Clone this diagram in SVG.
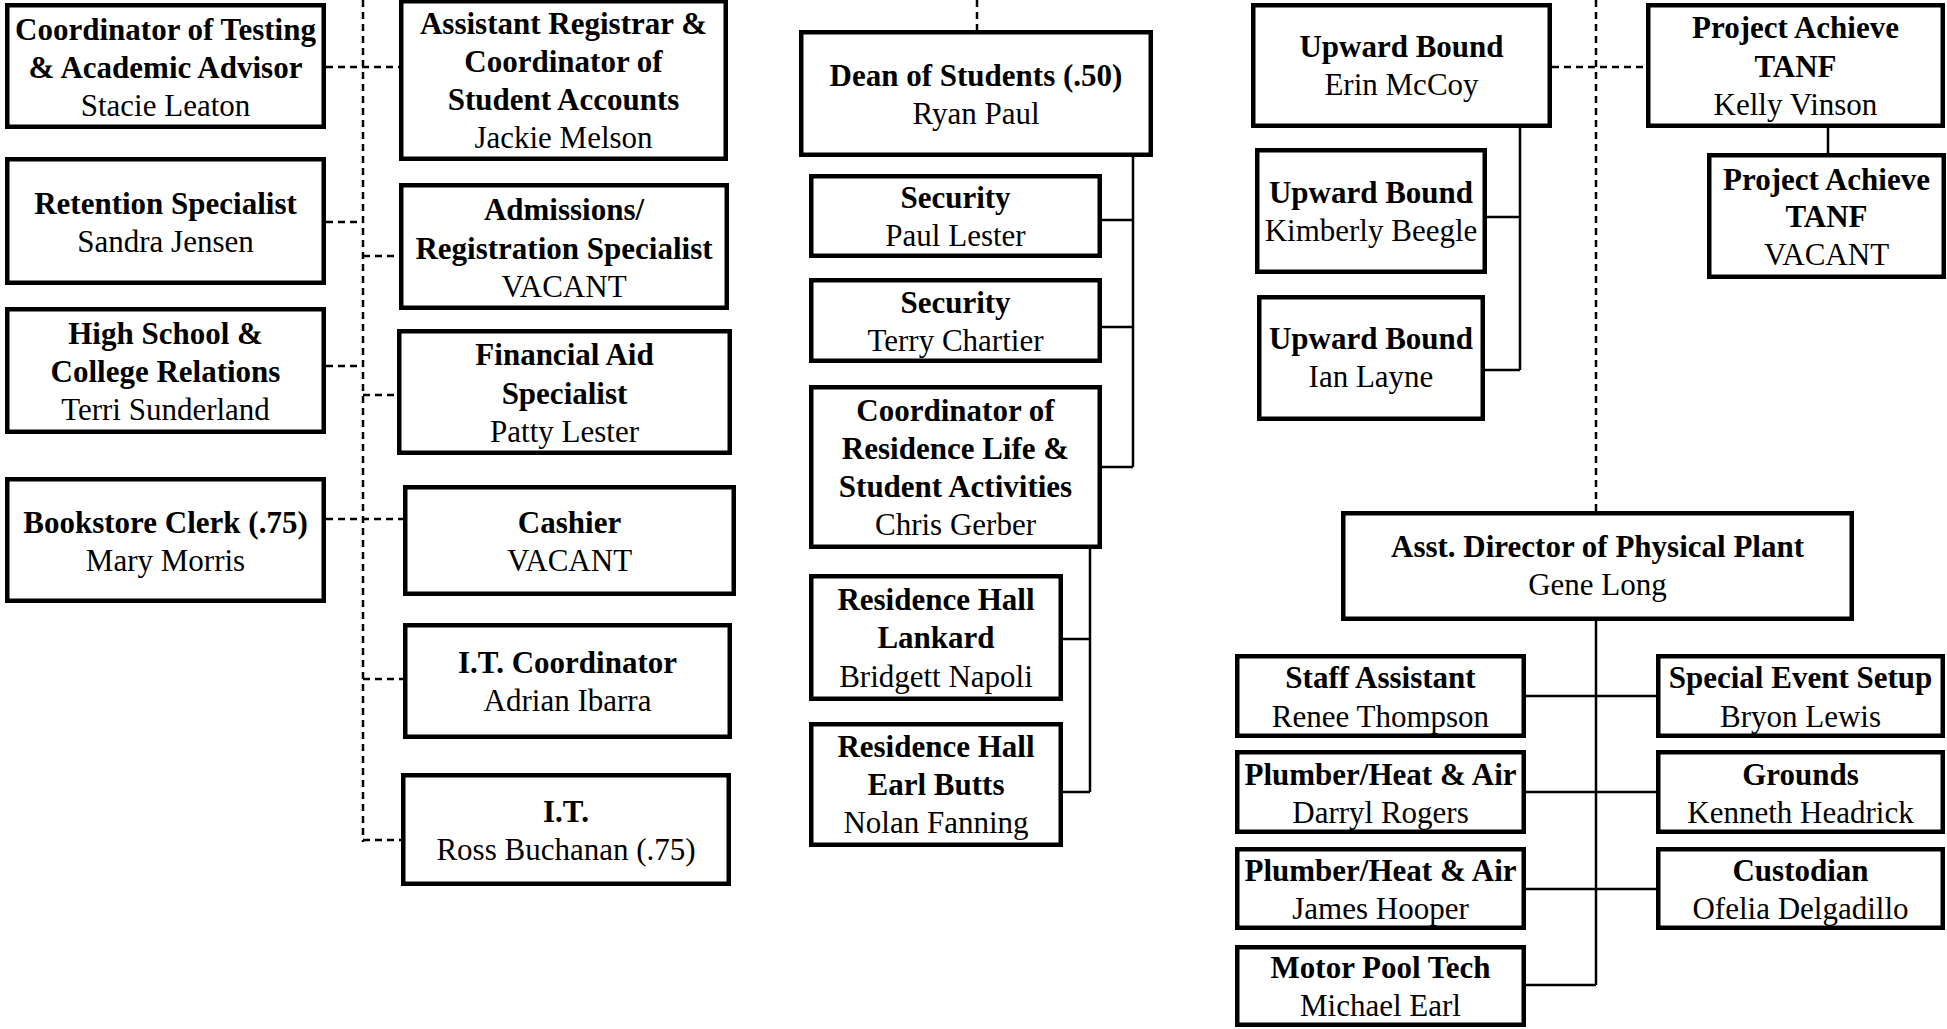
<svg xmlns="http://www.w3.org/2000/svg" width="1947" height="1029" viewBox="0 0 1947 1029">
<style>
.box{fill:#fff;stroke:#000;stroke-width:4.5}
.t{font-family:"Liberation Serif","Times New Roman",serif;font-size:31px;text-anchor:middle;fill:#000}
.b{font-weight:bold}
.dash{stroke:#000;stroke-width:2.5;stroke-dasharray:7 5;fill:none}
.solid{stroke:#000;stroke-width:2.5;fill:none}
</style>
<rect width="1947" height="1029" fill="#fff"/>
<g id="connectors">
<path class="dash" d="M363,0V842M326,67H399M326,222H363M363,256H399M326,366H363M363,395H397M326,519H403M363,679H403M363,840H401"/>
<path class="dash" d="M977,0V30"/>
<path class="dash" d="M1596,0V511M1552,67H1646"/>
<path class="solid" d="M1133,157V467M1102,220H1133M1102,327H1133M1102,467H1133"/>
<path class="solid" d="M1090,549V792M1063,639H1090M1063,792H1090"/>
<path class="solid" d="M1520,128V370M1487,217H1520M1485,370H1520"/>
<path class="solid" d="M1828,128V153"/>
<path class="solid" d="M1596,621V985M1526,696H1656M1526,792H1656M1526,889H1656M1526,985H1596"/>
</g>
<g id="coord-testing"><rect class="box" x="7.25" y="5.25" width="316.5" height="121.5"/>
<text class="t b" x="165.5" y="40">Coordinator of Testing</text><text class="t b" x="165.5" y="78">&amp; Academic Advisor</text><text class="t" x="165.5" y="116">Stacie Leaton</text></g>
<g id="retention"><rect class="box" x="7.25" y="159.25" width="316.5" height="123.5"/>
<text class="t b" x="165.5" y="214">Retention Specialist</text><text class="t" x="165.5" y="252">Sandra Jensen</text></g>
<g id="high-school"><rect class="box" x="7.25" y="309.25" width="316.5" height="122.5"/>
<text class="t b" x="165.5" y="344">High School &amp;</text><text class="t b" x="165.5" y="382">College Relations</text><text class="t" x="165.5" y="420">Terri Sunderland</text></g>
<g id="bookstore"><rect class="box" x="7.25" y="479.25" width="316.5" height="121.5"/>
<text class="t b" x="165.5" y="533">Bookstore Clerk (.75)</text><text class="t" x="165.5" y="571">Mary Morris</text></g>
<g id="asst-registrar"><rect class="box" x="401.25" y="1.25" width="324.5" height="157.5"/>
<text class="t b" x="563.5" y="34">Assistant Registrar &amp;</text><text class="t b" x="563.5" y="72">Coordinator of</text><text class="t b" x="563.5" y="110">Student Accounts</text><text class="t" x="563.5" y="148">Jackie Melson</text></g>
<g id="admissions"><rect class="box" x="401.25" y="185.25" width="325.5" height="122.5"/>
<text class="t b" x="564" y="220">Admissions/</text><text class="t b" x="564" y="259">Registration Specialist</text><text class="t" x="564" y="297">VACANT</text></g>
<g id="financial-aid"><rect class="box" x="399.25" y="331.25" width="330.5" height="121.5"/>
<text class="t b" x="564.5" y="365">Financial Aid</text><text class="t b" x="564.5" y="404">Specialist</text><text class="t" x="564.5" y="442">Patty Lester</text></g>
<g id="cashier"><rect class="box" x="405.25" y="487.25" width="328.5" height="106.5"/>
<text class="t b" x="569.5" y="533">Cashier</text><text class="t" x="569.5" y="571">VACANT</text></g>
<g id="it-coordinator"><rect class="box" x="405.25" y="625.25" width="324.5" height="111.5"/>
<text class="t b" x="567.5" y="673">I.T. Coordinator</text><text class="t" x="567.5" y="711">Adrian Ibarra</text></g>
<g id="it"><rect class="box" x="403.25" y="775.25" width="325.5" height="108.5"/>
<text class="t b" x="566" y="822">I.T.</text><text class="t" x="566" y="860">Ross Buchanan (.75)</text></g>
<g id="dean"><rect class="box" x="801.25" y="32.25" width="349.5" height="122.5"/>
<text class="t b" x="976" y="86">Dean of Students (.50)</text><text class="t" x="976" y="124">Ryan Paul</text></g>
<g id="security-1"><rect class="box" x="811.25" y="176.25" width="288.5" height="79.5"/>
<text class="t b" x="955.5" y="208">Security</text><text class="t" x="955.5" y="246">Paul Lester</text></g>
<g id="security-2"><rect class="box" x="811.25" y="280.25" width="288.5" height="80.5"/>
<text class="t b" x="955.5" y="313">Security</text><text class="t" x="955.5" y="351">Terry Chartier</text></g>
<g id="coord-residence"><rect class="box" x="811.25" y="387.25" width="288.5" height="159.5"/>
<text class="t b" x="955.5" y="421">Coordinator of</text><text class="t b" x="955.5" y="459">Residence Life &amp;</text><text class="t b" x="955.5" y="497">Student Activities</text><text class="t" x="955.5" y="535">Chris Gerber</text></g>
<g id="hall-lankard"><rect class="box" x="811.25" y="576.25" width="249.5" height="122.5"/>
<text class="t b" x="936" y="610">Residence Hall</text><text class="t b" x="936" y="648">Lankard</text><text class="t" x="936" y="687">Bridgett Napoli</text></g>
<g id="hall-earl-butts"><rect class="box" x="811.25" y="724.25" width="249.5" height="120.5"/>
<text class="t b" x="936" y="757">Residence Hall</text><text class="t b" x="936" y="795">Earl Butts</text><text class="t" x="936" y="833">Nolan Fanning</text></g>
<g id="ub-mccoy"><rect class="box" x="1253.25" y="5.25" width="296.5" height="120.5"/>
<text class="t b" x="1401.5" y="57">Upward Bound</text><text class="t" x="1401.5" y="95">Erin McCoy</text></g>
<g id="ub-beegle"><rect class="box" x="1257.25" y="150.25" width="227.5" height="121.5"/>
<text class="t b" x="1371" y="203">Upward Bound</text><text class="t" x="1371" y="241">Kimberly Beegle</text></g>
<g id="ub-layne"><rect class="box" x="1259.25" y="297.25" width="223.5" height="121.5"/>
<text class="t b" x="1371" y="349">Upward Bound</text><text class="t" x="1371" y="387">Ian Layne</text></g>
<g id="pa-vinson"><rect class="box" x="1648.25" y="5.25" width="294.5" height="120.5"/>
<text class="t b" x="1795.5" y="38">Project Achieve</text><text class="t b" x="1795.5" y="77">TANF</text><text class="t" x="1795.5" y="115">Kelly Vinson</text></g>
<g id="pa-vacant"><rect class="box" x="1709.25" y="155.25" width="234.5" height="121.5"/>
<text class="t b" x="1826.5" y="190">Project Achieve</text><text class="t b" x="1826.5" y="227">TANF</text><text class="t" x="1826.5" y="265">VACANT</text></g>
<g id="asst-director"><rect class="box" x="1343.25" y="513.25" width="508.5" height="105.5"/>
<text class="t b" x="1597.5" y="557">Asst. Director of Physical Plant</text><text class="t" x="1597.5" y="595">Gene Long</text></g>
<g id="staff-assistant"><rect class="box" x="1237.25" y="656.25" width="286.5" height="79.5"/>
<text class="t b" x="1380.5" y="688">Staff Assistant</text><text class="t" x="1380.5" y="727">Renee Thompson</text></g>
<g id="special-event"><rect class="box" x="1658.25" y="656.25" width="284.5" height="79.5"/>
<text class="t b" x="1800.5" y="688">Special Event Setup</text><text class="t" x="1800.5" y="727">Bryon Lewis</text></g>
<g id="plumber-rogers"><rect class="box" x="1237.25" y="752.25" width="286.5" height="79.5"/>
<text class="t b" x="1380.5" y="785">Plumber/Heat &amp; Air</text><text class="t" x="1380.5" y="823">Darryl Rogers</text></g>
<g id="grounds"><rect class="box" x="1658.25" y="752.25" width="284.5" height="79.5"/>
<text class="t b" x="1800.5" y="785">Grounds</text><text class="t" x="1800.5" y="823">Kenneth Headrick</text></g>
<g id="plumber-hooper"><rect class="box" x="1237.25" y="849.25" width="286.5" height="78.5"/>
<text class="t b" x="1380.5" y="881">Plumber/Heat &amp; Air</text><text class="t" x="1380.5" y="919">James Hooper</text></g>
<g id="custodian"><rect class="box" x="1658.25" y="849.25" width="284.5" height="78.5"/>
<text class="t b" x="1800.5" y="881">Custodian</text><text class="t" x="1800.5" y="919">Ofelia Delgadillo</text></g>
<g id="motor-pool"><rect class="box" x="1237.25" y="947.25" width="286.5" height="77.5"/>
<text class="t b" x="1380.5" y="978">Motor Pool Tech</text><text class="t" x="1380.5" y="1016">Michael Earl</text></g>
</svg>
